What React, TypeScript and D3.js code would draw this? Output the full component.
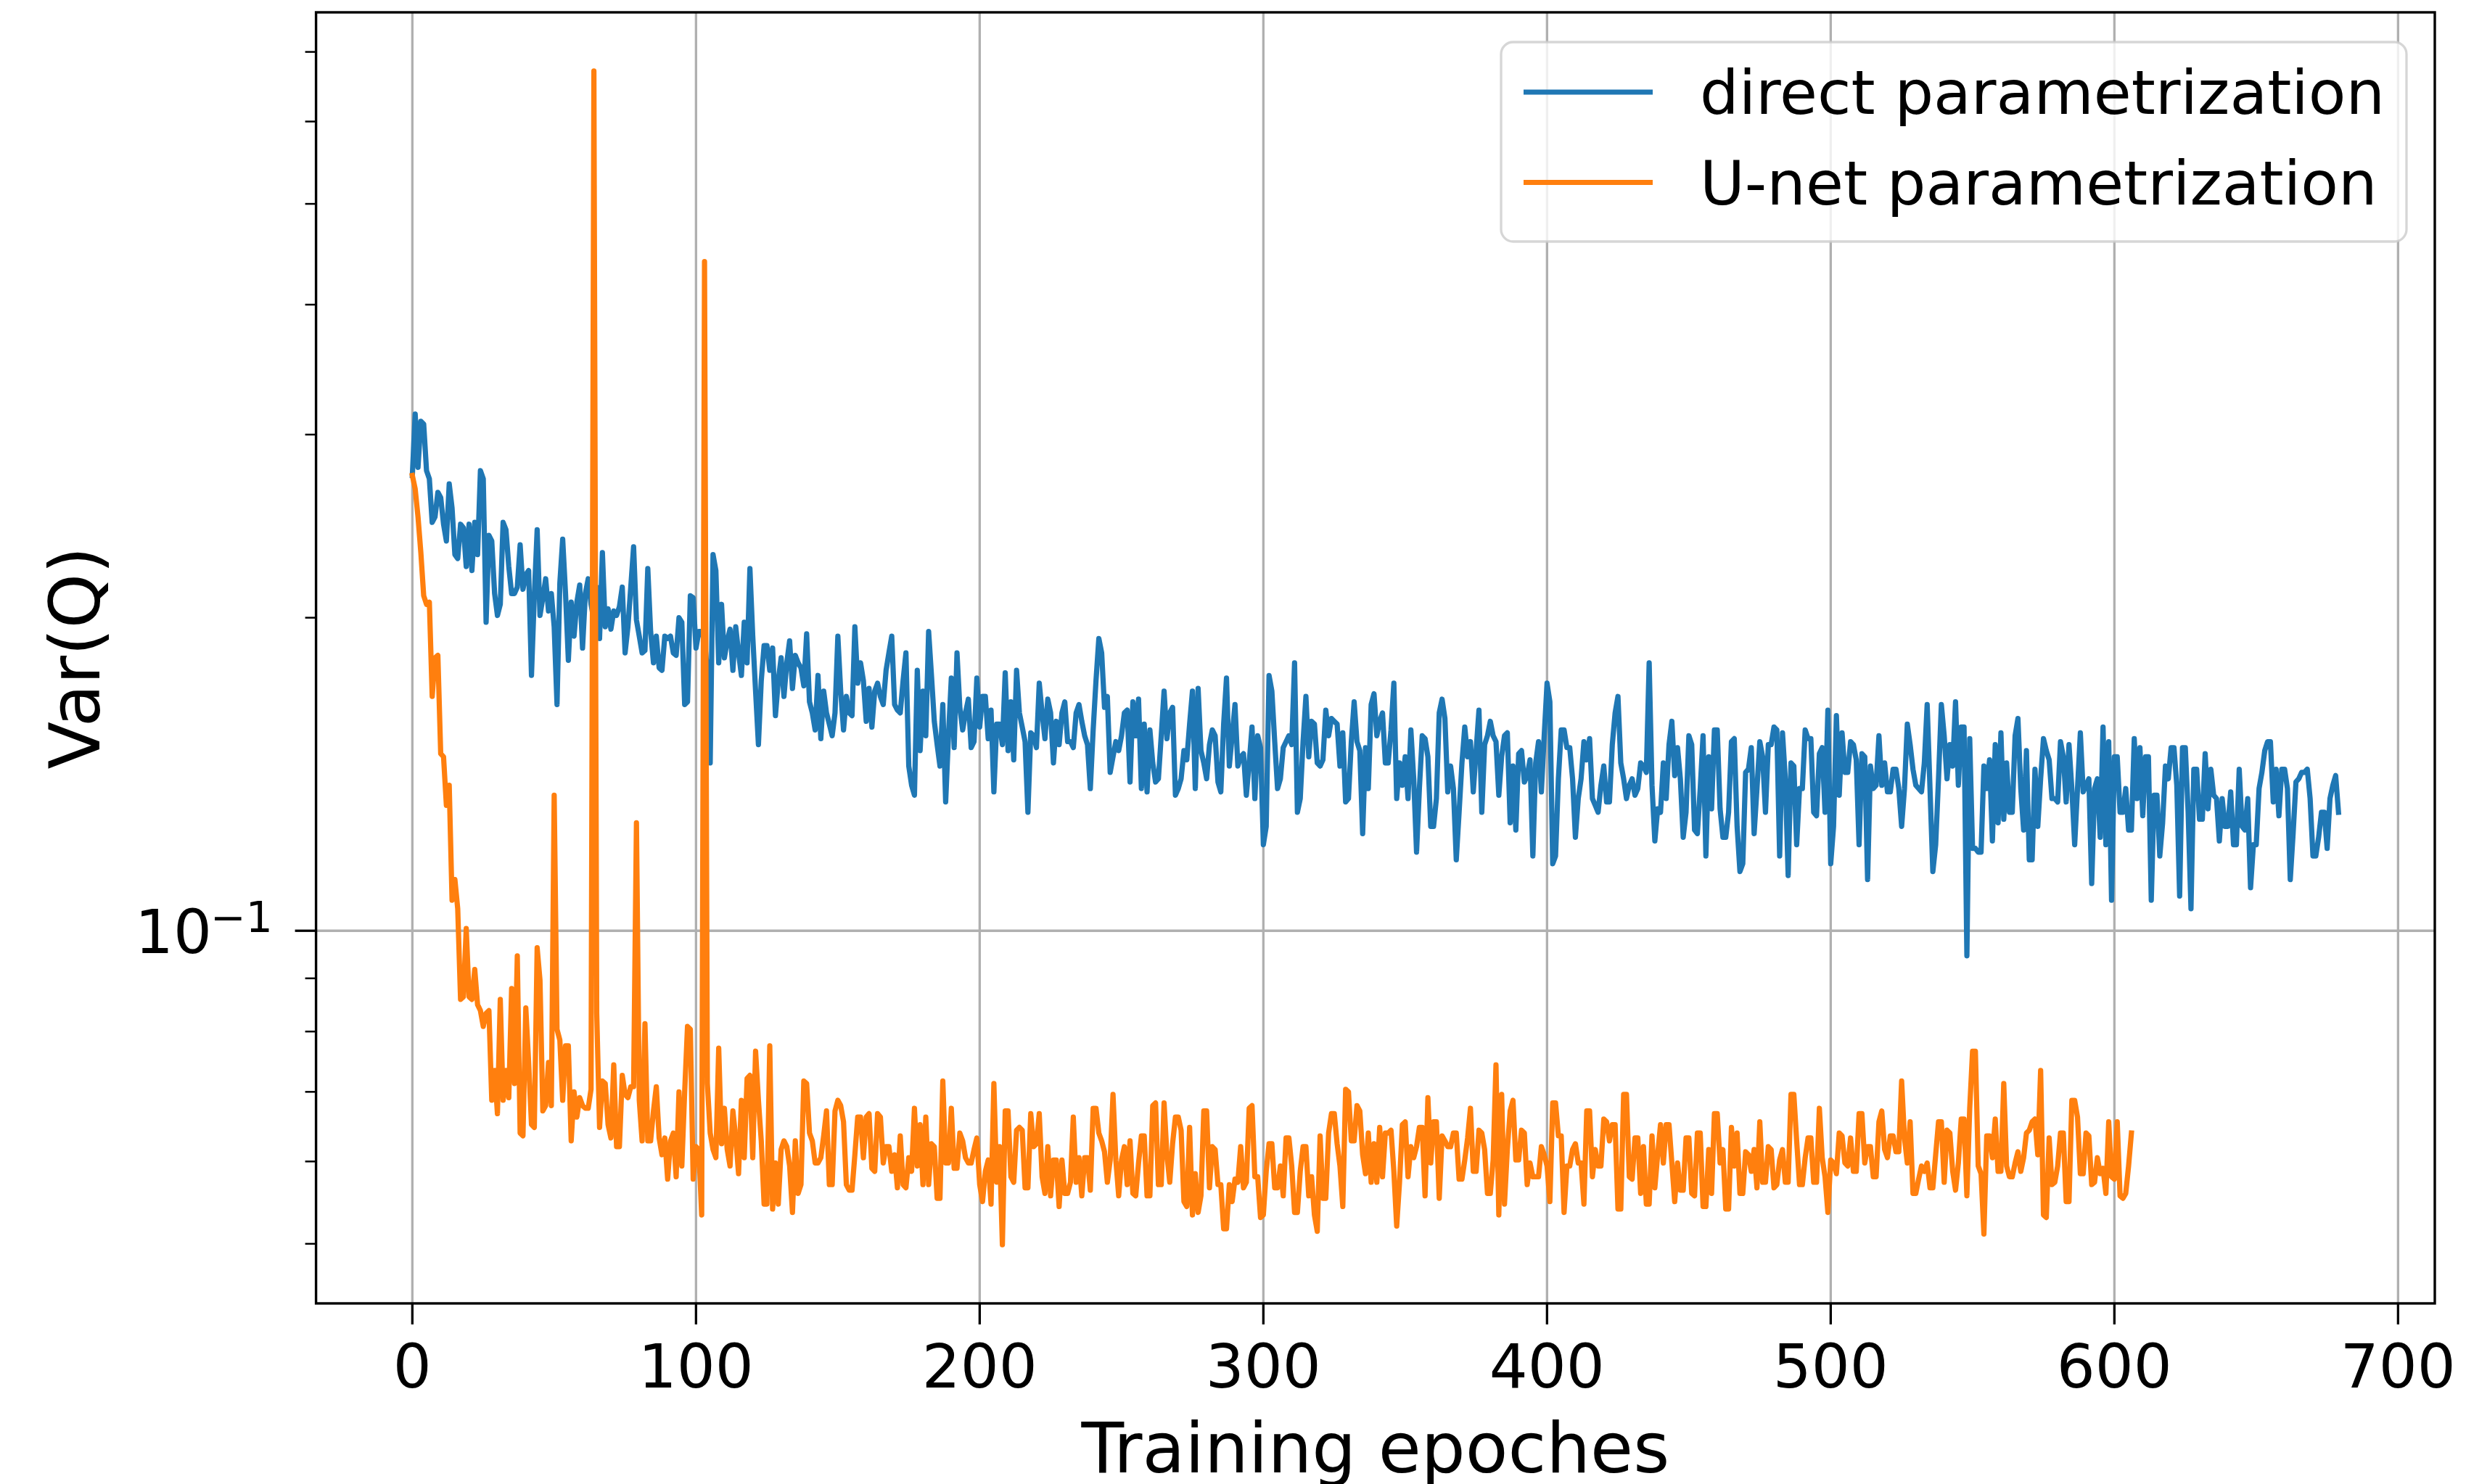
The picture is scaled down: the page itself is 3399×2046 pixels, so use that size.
import React from "react";
import * as d3 from "d3";

// Var(Q) per training epoch
const directVar = [
  0.274, 0.314, 0.279, 0.309, 0.307, 0.277, 0.272, 0.247, 0.250, 0.264,
  0.261, 0.246, 0.237, 0.269, 0.255, 0.230, 0.228, 0.246, 0.244, 0.224,
  0.246, 0.222, 0.247, 0.230, 0.277, 0.272, 0.198, 0.240, 0.237, 0.211,
  0.201, 0.206, 0.247, 0.243, 0.224, 0.211, 0.211, 0.214, 0.235, 0.213,
  0.220, 0.222, 0.176, 0.210, 0.243, 0.201, 0.209, 0.218, 0.203, 0.211,
  0.196, 0.165, 0.216, 0.238, 0.211, 0.182, 0.207, 0.192, 0.207, 0.215,
  0.187, 0.211, 0.218, 0.206, 0.199, 0.214, 0.191, 0.231, 0.196, 0.204,
  0.195, 0.203, 0.201, 0.205, 0.214, 0.185, 0.196, 0.214, 0.234, 0.199,
  0.192, 0.185, 0.186, 0.223, 0.194, 0.181, 0.192, 0.179, 0.178, 0.192,
  0.191, 0.192, 0.185, 0.184, 0.200, 0.198, 0.165, 0.166, 0.210, 0.209,
  0.187, 0.194, 0.194, 0.190, 0.178, 0.145, 0.230, 0.222, 0.181, 0.206,
  0.183, 0.190, 0.195, 0.178, 0.196, 0.185, 0.176, 0.198, 0.181, 0.223,
  0.192, 0.170, 0.151, 0.174, 0.188, 0.188, 0.178, 0.187, 0.161, 0.174,
  0.183, 0.168, 0.181, 0.190, 0.171, 0.184, 0.181, 0.179, 0.172, 0.193,
  0.166, 0.162, 0.156, 0.176, 0.153, 0.170, 0.162, 0.158, 0.154, 0.162,
  0.192, 0.170, 0.156, 0.168, 0.162, 0.161, 0.196, 0.173, 0.181, 0.174,
  0.159, 0.171, 0.157, 0.170, 0.173, 0.168, 0.165, 0.178, 0.185, 0.192,
  0.165, 0.163, 0.162, 0.174, 0.185, 0.144, 0.138, 0.135, 0.178, 0.149,
  0.170, 0.154, 0.194, 0.176, 0.159, 0.151, 0.144, 0.165, 0.133, 0.154,
  0.175, 0.150, 0.185, 0.164, 0.156, 0.162, 0.167, 0.150, 0.152, 0.175,
  0.157, 0.168, 0.168, 0.153, 0.163, 0.136, 0.158, 0.158, 0.151, 0.177,
  0.149, 0.166, 0.146, 0.178, 0.162, 0.157, 0.152, 0.130, 0.155, 0.154,
  0.150, 0.173, 0.162, 0.153, 0.167, 0.162, 0.145, 0.159, 0.151, 0.162,
  0.166, 0.152, 0.152, 0.150, 0.162, 0.165, 0.159, 0.154, 0.151, 0.137,
  0.156, 0.174, 0.191, 0.185, 0.164, 0.168, 0.142, 0.147, 0.152, 0.149,
  0.154, 0.162, 0.163, 0.139, 0.166, 0.154, 0.167, 0.137, 0.158, 0.136,
  0.156, 0.145, 0.139, 0.140, 0.154, 0.170, 0.153, 0.162, 0.164, 0.135,
  0.137, 0.140, 0.149, 0.146, 0.158, 0.170, 0.137, 0.171, 0.149, 0.145,
  0.140, 0.151, 0.156, 0.154, 0.139, 0.136, 0.158, 0.175, 0.144, 0.154,
  0.165, 0.144, 0.147, 0.148, 0.135, 0.145, 0.157, 0.134, 0.154, 0.150,
  0.121, 0.126, 0.176, 0.170, 0.152, 0.137, 0.140, 0.150, 0.152, 0.154,
  0.151, 0.181, 0.130, 0.134, 0.152, 0.168, 0.147, 0.159, 0.158, 0.145,
  0.144, 0.146, 0.163, 0.154, 0.160, 0.159, 0.158, 0.144, 0.155, 0.133,
  0.134, 0.152, 0.166, 0.152, 0.149, 0.124, 0.150, 0.137, 0.165, 0.169,
  0.154, 0.159, 0.162, 0.145, 0.145, 0.156, 0.173, 0.134, 0.145, 0.138,
  0.147, 0.134, 0.156, 0.140, 0.119, 0.137, 0.154, 0.153, 0.147, 0.126,
  0.126, 0.134, 0.162, 0.167, 0.160, 0.136, 0.144, 0.137, 0.117, 0.130,
  0.145, 0.157, 0.147, 0.152, 0.136, 0.149, 0.163, 0.130, 0.151, 0.154,
  0.159, 0.154, 0.152, 0.135, 0.147, 0.154, 0.155, 0.127, 0.144, 0.125,
  0.148, 0.149, 0.139, 0.141, 0.146, 0.118, 0.145, 0.152, 0.136, 0.154,
  0.173, 0.166, 0.116, 0.118, 0.140, 0.156, 0.156, 0.150, 0.150, 0.140,
  0.123, 0.134, 0.140, 0.152, 0.146, 0.153, 0.134, 0.132, 0.130, 0.138,
  0.144, 0.133, 0.133, 0.151, 0.162, 0.168, 0.145, 0.140, 0.134, 0.138,
  0.140, 0.135, 0.137, 0.145, 0.144, 0.142, 0.181, 0.138, 0.122, 0.131,
  0.130, 0.145, 0.134, 0.151, 0.159, 0.141, 0.150, 0.140, 0.123, 0.130,
  0.154, 0.151, 0.125, 0.124, 0.137, 0.154, 0.118, 0.147, 0.131, 0.156,
  0.156, 0.131, 0.123, 0.123, 0.130, 0.152, 0.153, 0.126, 0.114, 0.116,
  0.142, 0.143, 0.150, 0.124, 0.137, 0.152, 0.147, 0.130, 0.151, 0.151,
  0.157, 0.156, 0.118, 0.155, 0.140, 0.113, 0.145, 0.144, 0.121, 0.137,
  0.137, 0.156, 0.153, 0.153, 0.130, 0.129, 0.148, 0.150, 0.130, 0.163,
  0.116, 0.126, 0.161, 0.135, 0.155, 0.142, 0.142, 0.152, 0.151, 0.146,
  0.121, 0.148, 0.147, 0.112, 0.144, 0.137, 0.138, 0.154, 0.138, 0.145,
  0.136, 0.136, 0.143, 0.143, 0.137, 0.126, 0.137, 0.158, 0.151, 0.143,
  0.138, 0.137, 0.136, 0.145, 0.165, 0.137, 0.114, 0.121, 0.140, 0.165,
  0.154, 0.140, 0.151, 0.144, 0.166, 0.138, 0.157, 0.157, 0.0946, 0.153,
  0.120, 0.120, 0.119, 0.119, 0.144, 0.137, 0.146, 0.122, 0.151, 0.127,
  0.155, 0.128, 0.145, 0.130, 0.130, 0.154, 0.160, 0.137, 0.125, 0.149,
  0.117, 0.117, 0.143, 0.126, 0.140, 0.153, 0.149, 0.146, 0.134, 0.134,
  0.133, 0.152, 0.147, 0.133, 0.151, 0.137, 0.121, 0.137, 0.155, 0.136,
  0.138, 0.140, 0.111, 0.137, 0.140, 0.123, 0.157, 0.121, 0.152, 0.107,
  0.147, 0.147, 0.130, 0.130, 0.137, 0.125, 0.125, 0.153, 0.134, 0.150,
  0.129, 0.147, 0.147, 0.107, 0.135, 0.135, 0.118, 0.127, 0.144, 0.140,
  0.150, 0.150, 0.138, 0.108, 0.150, 0.150, 0.130, 0.105, 0.143, 0.143,
  0.128, 0.128, 0.148, 0.131, 0.143, 0.135, 0.134, 0.122, 0.134, 0.126,
  0.126, 0.136, 0.121, 0.121, 0.143, 0.126, 0.125, 0.134, 0.110, 0.121,
  0.121, 0.137, 0.142, 0.149, 0.152, 0.152, 0.133, 0.143, 0.129, 0.143,
  0.143, 0.137, 0.112, 0.124, 0.139, 0.140, 0.142, 0.142, 0.143, 0.134,
  0.118, 0.118, 0.123, 0.130, 0.130, 0.120, 0.134, 0.138, 0.141, 0.130,
];

const unetVar = [
  0.274, 0.266, 0.250, 0.231, 0.210, 0.206, 0.207, 0.168, 0.183, 0.184,
  0.148, 0.147, 0.132, 0.138, 0.107, 0.112, 0.105, 0.0859, 0.0864, 0.1005,
  0.0864, 0.0859, 0.0918, 0.0849, 0.0838, 0.0809, 0.0833, 0.0838, 0.0687, 0.0734,
  0.0667, 0.0859, 0.0687, 0.0734, 0.0691, 0.0880, 0.0713, 0.0946, 0.0639, 0.0635,
  0.0843, 0.0747, 0.0651, 0.0647, 0.0963, 0.0896, 0.0671, 0.0679, 0.0747, 0.0679,
  0.135, 0.0804, 0.0785, 0.0687, 0.0775, 0.0775, 0.0628, 0.0700, 0.0662, 0.0691,
  0.0679, 0.0675, 0.0675, 0.0704, 0.671, 0.0833, 0.0647, 0.0717, 0.0713, 0.0651,
  0.0632, 0.0743, 0.0620, 0.0620, 0.0726, 0.0696, 0.0691, 0.0708, 0.0708, 0.127,
  0.0687, 0.0628, 0.0814, 0.0628, 0.0628, 0.0671, 0.0708, 0.0632, 0.0609, 0.0632,
  0.0577, 0.0628, 0.0639, 0.0580, 0.0700, 0.0594, 0.0700, 0.0809, 0.0804, 0.0577,
  0.0620, 0.0616, 0.0533, 0.440, 0.0713, 0.0639, 0.0616, 0.0605, 0.0771, 0.0624,
  0.0675, 0.0616, 0.0594, 0.0671, 0.0632, 0.0584, 0.0687, 0.0605, 0.0721, 0.0726,
  0.0605, 0.0766, 0.0687, 0.0628, 0.0546, 0.0546, 0.0775, 0.0540, 0.0598, 0.0546,
  0.0616, 0.0628, 0.0620, 0.0594, 0.0536, 0.0628, 0.0559, 0.0570, 0.0717, 0.0713,
  0.0639, 0.0628, 0.0598, 0.0598, 0.0605, 0.0635, 0.0671, 0.0570, 0.0570, 0.0671,
  0.0687, 0.0679, 0.0655, 0.0570, 0.0563, 0.0563, 0.0609, 0.0662, 0.0662, 0.0605,
  0.0662, 0.0667, 0.0591, 0.0587, 0.0667, 0.0662, 0.0598, 0.0620, 0.0620, 0.0587,
  0.0609, 0.0566, 0.0635, 0.0570, 0.0566, 0.0605, 0.0587, 0.0675, 0.0594, 0.0651,
  0.0570, 0.0662, 0.0570, 0.0624, 0.0620, 0.0553, 0.0553, 0.0717, 0.0598, 0.0598,
  0.0675, 0.0591, 0.0591, 0.0639, 0.0628, 0.0605, 0.0598, 0.0598, 0.0616, 0.0632,
  0.0570, 0.0549, 0.0587, 0.0602, 0.0546, 0.0713, 0.0573, 0.0620, 0.0499, 0.0671,
  0.0671, 0.0580, 0.0573, 0.0643, 0.0647, 0.0643, 0.0566, 0.0566, 0.0667, 0.0620,
  0.0624, 0.0667, 0.0580, 0.0559, 0.0620, 0.0556, 0.0602, 0.0602, 0.0543, 0.0602,
  0.0559, 0.0559, 0.0573, 0.0662, 0.0573, 0.0605, 0.0556, 0.0605, 0.0605, 0.0563,
  0.0675, 0.0675, 0.0639, 0.0628, 0.0613, 0.0573, 0.0602, 0.0696, 0.0602, 0.0556,
  0.0602, 0.0620, 0.0570, 0.0628, 0.0559, 0.0556, 0.0598, 0.0635, 0.0635, 0.0556,
  0.0556, 0.0679, 0.0683, 0.0570, 0.0570, 0.0683, 0.0609, 0.0573, 0.0624, 0.0662,
  0.0662, 0.0643, 0.0549, 0.0543, 0.0647, 0.0533, 0.0584, 0.0536, 0.0556, 0.0671,
  0.0671, 0.0566, 0.0620, 0.0616, 0.0570, 0.0570, 0.0517, 0.0517, 0.0570, 0.0549,
  0.0577, 0.0573, 0.0620, 0.0566, 0.0573, 0.0675, 0.0679, 0.0580, 0.0580, 0.0530,
  0.0533, 0.0587, 0.0624, 0.0624, 0.0566, 0.0566, 0.0594, 0.0556, 0.0632, 0.0632,
  0.0594, 0.0536, 0.0536, 0.0587, 0.0620, 0.0620, 0.0556, 0.0580, 0.0533, 0.0514,
  0.0635, 0.0553, 0.0553, 0.0639, 0.0667, 0.0667, 0.0624, 0.0594, 0.0543, 0.0704,
  0.0700, 0.0628, 0.0628, 0.0679, 0.0671, 0.0609, 0.0584, 0.0639, 0.0573, 0.0624,
  0.0573, 0.0647, 0.0580, 0.0639, 0.0639, 0.0643, 0.0587, 0.0520, 0.0573, 0.0651,
  0.0655, 0.0580, 0.0620, 0.0605, 0.0620, 0.0647, 0.0647, 0.0556, 0.0691, 0.0598,
  0.0655, 0.0655, 0.0553, 0.0635, 0.0628, 0.0620, 0.0620, 0.0639, 0.0639, 0.0577,
  0.0577, 0.0602, 0.0632, 0.0675, 0.0587, 0.0587, 0.0643, 0.0639, 0.0616, 0.0559,
  0.0559, 0.0602, 0.0743, 0.0533, 0.0696, 0.0546, 0.0616, 0.0671, 0.0687, 0.0602,
  0.0602, 0.0643, 0.0639, 0.0570, 0.0598, 0.0580, 0.0580, 0.0580, 0.0620, 0.0609,
  0.0594, 0.0549, 0.0683, 0.0683, 0.0635, 0.0635, 0.0536, 0.0594, 0.0594, 0.0616,
  0.0624, 0.0598, 0.0598, 0.0546, 0.0671, 0.0671, 0.0580, 0.0616, 0.0594, 0.0594,
  0.0659, 0.0655, 0.0628, 0.0651, 0.0651, 0.0540, 0.0540, 0.0696, 0.0696, 0.0580,
  0.0577, 0.0632, 0.0632, 0.0559, 0.0620, 0.0546, 0.0546, 0.0635, 0.0566, 0.0609,
  0.0651, 0.0598, 0.0651, 0.0651, 0.0598, 0.0549, 0.0598, 0.0563, 0.0563, 0.0632,
  0.0632, 0.0559, 0.0556, 0.0639, 0.0639, 0.0543, 0.0543, 0.0616, 0.0559, 0.0667,
  0.0667, 0.0598, 0.0616, 0.0540, 0.0540, 0.0647, 0.0594, 0.0639, 0.0559, 0.0559,
  0.0613, 0.0609, 0.0587, 0.0616, 0.0566, 0.0655, 0.0573, 0.0573, 0.0620, 0.0616,
  0.0566, 0.0570, 0.0602, 0.0616, 0.0573, 0.0573, 0.0696, 0.0696, 0.0628, 0.0570,
  0.0570, 0.0605, 0.0632, 0.0632, 0.0573, 0.0573, 0.0675, 0.0605, 0.0580, 0.0536,
  0.0602, 0.0598, 0.0584, 0.0639, 0.0635, 0.0598, 0.0594, 0.0632, 0.0587, 0.0587,
  0.0667, 0.0667, 0.0598, 0.0620, 0.0620, 0.0580, 0.0580, 0.0655, 0.0671, 0.0616,
  0.0605, 0.0635, 0.0635, 0.0613, 0.0613, 0.0717, 0.0632, 0.0598, 0.0655, 0.0559,
  0.0559, 0.0577, 0.0594, 0.0587, 0.0598, 0.0566, 0.0566, 0.0609, 0.0655, 0.0655,
  0.0573, 0.0643, 0.0639, 0.0587, 0.0563, 0.0598, 0.0659, 0.0659, 0.0556, 0.0675,
  0.0766, 0.0766, 0.0594, 0.0584, 0.0511, 0.0635, 0.0635, 0.0605, 0.0659, 0.0587,
  0.0587, 0.0713, 0.0594, 0.0580, 0.0580, 0.0598, 0.0613, 0.0587, 0.0605, 0.0639,
  0.0643, 0.0655, 0.0659, 0.0609, 0.0734, 0.0533, 0.0530, 0.0632, 0.0570, 0.0573,
  0.0594, 0.0639, 0.0639, 0.0549, 0.0549, 0.0687, 0.0687, 0.0662, 0.0584, 0.0584,
  0.0639, 0.0635, 0.0570, 0.0573, 0.0605, 0.0584, 0.0591, 0.0559, 0.0655, 0.0580,
  0.0577, 0.0655, 0.0556, 0.0553, 0.0559, 0.0594, 0.0639,
];

const seriesNames = ["direct parametrization", "U-net parametrization"];
const seriesColors = ["#1f77b4", "#ff7f0e"];
const xTicks = [0, 100, 200, 300, 400, 500, 600, 700];
const yMajorTicks = [0.1];
const yMinorTicks = [0.05, 0.06, 0.07, 0.08, 0.09, 0.2, 0.3, 0.4, 0.5, 0.6, 0.7];
const xLabel = "Training epoches";
const yLabel = "Var(Q)";

const W = 3399;
const H = 2046;
const plot = { left: 435.6, right: 3356, top: 17, bottom: 1797 };
const font = "'DejaVu Sans', sans-serif";
const tickFs = 83.3;
const legendFs = 84.5;
const labelFs = 96;
const lineW = 7.2;

export default function App() {
  const series = [directVar, unetVar];

  // matplotlib-like 5% margins
  const nMax = d3.max(series, (s) => s.length - 1) as number;
  const xPad = nMax * 0.05;
  const x = d3.scaleLinear().domain([-xPad, nMax + xPad]).range([plot.left, plot.right]);

  const lo = d3.min(series, (s) => d3.min(s)) as number;
  const hi = d3.max(series, (s) => d3.max(s)) as number;
  const logPad = Math.log10(hi / lo) * 0.05;
  const y = d3
    .scaleLog()
    .domain([lo / Math.pow(10, logPad), hi * Math.pow(10, logPad)])
    .range([plot.bottom, plot.top]);

  const line = d3
    .line<number>()
    .x((_, i) => x(i))
    .y((d) => y(d));

  const majorLen = 29;
  const minorLen = 15;

  return (
    <svg
      width={W}
      height={H}
      style={{ position: "absolute", left: 0, top: 0, background: "#fff" }}
      fontFamily={font}
    >
      <defs>
        <clipPath id="plotClip">
          <rect x={plot.left} y={plot.top} width={plot.right - plot.left} height={plot.bottom - plot.top} />
        </clipPath>
      </defs>

      {/* grid */}
      <g stroke="#b0b0b0" strokeWidth={3.3}>
        {xTicks.map((t) => (
          <line key={"gx" + t} x1={x(t)} x2={x(t)} y1={plot.top} y2={plot.bottom} />
        ))}
        {yMajorTicks.map((t) => (
          <line key={"gy" + t} x1={plot.left} x2={plot.right} y1={y(t)} y2={y(t)} />
        ))}
      </g>

      {/* data */}
      <g clipPath="url(#plotClip)" fill="none" strokeWidth={lineW} strokeLinejoin="round" strokeLinecap="square">
        {series.map((s, i) => (
          <path key={i} d={line(s) || ""} stroke={seriesColors[i]} />
        ))}
      </g>

      {/* spines */}
      <rect
        x={plot.left}
        y={plot.top}
        width={plot.right - plot.left}
        height={plot.bottom - plot.top}
        fill="none"
        stroke="#000"
        strokeWidth={3.4}
      />

      {/* x ticks */}
      <g>
        {xTicks.map((t) => (
          <g key={"xt" + t}>
            <line x1={x(t)} x2={x(t)} y1={plot.bottom} y2={plot.bottom + majorLen} stroke="#000" strokeWidth={3.3} />
            <text x={x(t)} y={1913} fontSize={tickFs} textAnchor="middle" fill="#000">
              {t}
            </text>
          </g>
        ))}
      </g>

      {/* y ticks */}
      <g>
        {yMinorTicks.map((t) => (
          <line key={"ym" + t} x1={plot.left - minorLen} x2={plot.left} y1={y(t)} y2={y(t)} stroke="#000" strokeWidth={2.5} />
        ))}
        {yMajorTicks.map((t) => {
          const exp = Math.round(Math.log10(t));
          return (
            <g key={"yt" + t}>
              <line x1={plot.left - majorLen} x2={plot.left} y1={y(t)} y2={y(t)} stroke="#000" strokeWidth={3.3} />
              <text x={186} y={y(t) + 31} fontSize={tickFs} fill="#000">
                10
              </text>
              <text x={290} y={y(t) + 2} fontSize={tickFs * 0.7} fill="#000">
                {exp < 0 ? "\u2212" + Math.abs(exp) : String(exp)}
              </text>
            </g>
          );
        })}
      </g>

      {/* axis labels */}
      <text x={(plot.left + plot.right) / 2} y={2030} fontSize={labelFs} textAnchor="middle" fill="#000">
        {xLabel}
      </text>
      <text
        transform={`translate(137, ${(plot.top + plot.bottom) / 2}) rotate(-90)`}
        fontSize={labelFs}
        textAnchor="middle"
        fill="#000"
      >
        {yLabel}
      </text>

      {/* legend */}
      <g>
        <rect
          x={2069}
          y={58}
          width={3317 - 2069}
          height={333 - 58}
          rx={16.7}
          ry={16.7}
          fill="#fff"
          fillOpacity={0.8}
          stroke="#cccccc"
          strokeOpacity={0.8}
          strokeWidth={3.3}
        />
        {seriesNames.map((name, i) => {
          const cy = 127 + i * 124.5;
          return (
            <g key={name}>
              <line x1={2100} x2={2278} y1={cy} y2={cy} stroke={seriesColors[i]} strokeWidth={lineW} />
              <text x={2343} y={cy + 30} fontSize={legendFs} fill="#000">
                {name}
              </text>
            </g>
          );
        })}
      </g>
    </svg>
  );
}
